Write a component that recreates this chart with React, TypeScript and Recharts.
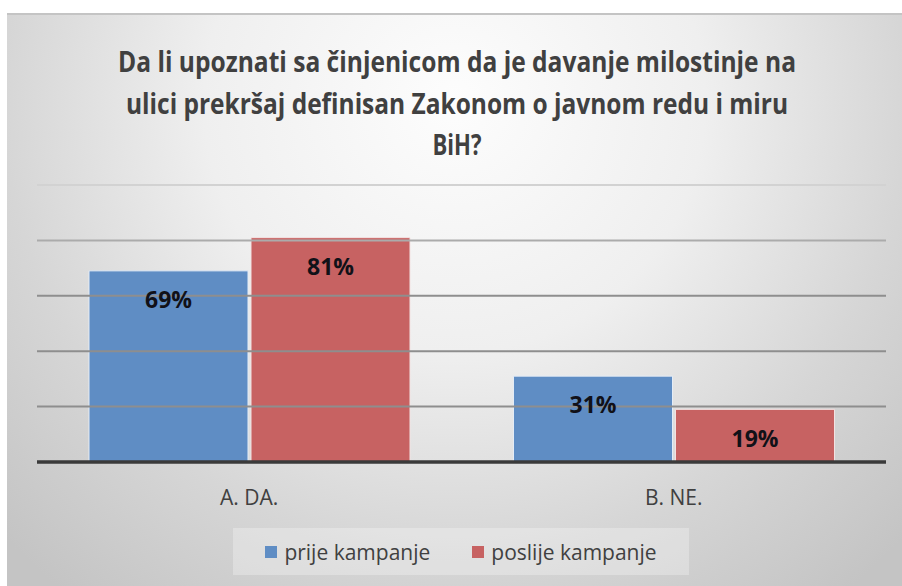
import React from 'react';
import { BarChart, Bar, XAxis, YAxis, ReferenceLine, LabelList, Legend } from 'recharts';

const categories = ['A. DA.', 'B. NE.'];
const prijeKampanje = [0.69, 0.31];
const poslijeKampanje = [0.81, 0.19];
const gridTicks = [0.2, 0.4, 0.6, 0.8, 1.0];
const seriesNames = ['prije kampanje', 'poslije kampanje'];
const titleLines = [
  'Da li upoznati sa činjenicom da je davanje milostinje na',
  'ulici prekršaj definisan Zakonom o javnom redu i miru',
  'BiH?',
];

const data = categories.map((c, i) => ({
  name: c,
  prije: prijeKampanje[i],
  poslije: poslijeKampanje[i],
}));

const BLUE = '#5f8dc4';
const RED = '#c76262';
const FONT = '"Open Sans", "Noto Sans", sans-serif';

const gridColor = (v: number) => (v >= 1 ? '#d2d2d2' : v >= 0.8 ? '#ababab' : '#8e8e8e');

const pct = (v: any) => `${Math.round(Number(v) * 100)}%`;

const LegendContent = (props: any) => {
  const payload = [...(props.payload || [])].sort(
    (a: any, b: any) => seriesNames.indexOf(a.value) - seriesNames.indexOf(b.value)
  );
  return (
    <div
      style={{
        width: 456,
        height: 47,
        background: 'rgba(255,255,255,0.28)',
        display: 'flex',
        alignItems: 'center',
        justifyContent: 'center',
        fontFamily: FONT,
        fontSize: 21,
        color: '#404040',
      }}
    >
      {payload.map((p: any, i: number) => (
        <div key={i} style={{ display: 'flex', alignItems: 'center', marginLeft: i ? 42 : 0 }}>
          <span style={{ width: 12, height: 12, background: p.color, display: 'inline-block', marginRight: 7 }} />
          <span>{p.value}</span>
        </div>
      ))}
    </div>
  );
};

export default function App() {
  const titleY = [72, 114, 155];
  const titleLen = [678, 662, 49];
  return (
    <div style={{ position: 'absolute', left: 0, top: 0, width: 902, height: 586, background: '#ffffff', overflow: 'hidden' }}>
      <div
        style={{
          position: 'absolute',
          left: 7,
          top: 13,
          width: 895,
          height: 573,
          borderTop: '2px solid #c4c4c4',
          boxSizing: 'border-box',
          background:
            'radial-gradient(ellipse 70% 110% at 50% 15%, #fdfdfd 0%, #efefef 40%, #d6d6d6 72%, #c4c4c4 100%)',
        }}
      />
      <svg width={902} height={586} style={{ position: 'absolute', left: 0, top: 0 }}>
        {titleLines.map((t, i) => (
          <text
            key={i}
            x={457}
            y={titleY[i]}
            textAnchor="middle"
            fontFamily={FONT}
            fontWeight="bold"
            fontSize={28}
            fill="#404040"
            textLength={titleLen[i]}
            lengthAdjust="spacingAndGlyphs"
          >
            {t}
          </text>
        ))}
      </svg>
      <div style={{ position: 'absolute', left: 0, top: 0 }}>
        <BarChart
          width={902}
          height={586}
          data={data}
          margin={{ top: 185, bottom: 94, left: 37, right: 16 }}
          barCategoryGap={52}
          barGap={3}
        >
          {gridTicks.map((v) => (
            <ReferenceLine key={v} y={v} stroke={gridColor(v)} strokeWidth={2} ifOverflow="extendDomain" />
          ))}
          <YAxis hide domain={[0, 1]} ticks={[0, ...gridTicks]} />
          <XAxis
            dataKey="name"
            height={30}
            axisLine={{ stroke: '#3a3a3a', strokeWidth: 3.5 }}
            tickLine={false}
            tickSize={0}
            tickMargin={28}
            tick={{ fontSize: 21, fill: '#404040', fontFamily: FONT }}
          />
          <Bar dataKey="prije" name={seriesNames[0]} fill={BLUE} stroke="#e4ecf6" strokeWidth={1} isAnimationActive={false}>
            <LabelList
              dataKey="prije"
              position="insideTop"
              offset={21}
              formatter={pct}
              style={{ fontSize: 23, fontWeight: 'bold', fill: '#111118', fontFamily: FONT }}
            />
          </Bar>
          <Bar dataKey="poslije" name={seriesNames[1]} fill={RED} stroke="#f2e2e2" strokeWidth={1} isAnimationActive={false}>
            <LabelList
              dataKey="poslije"
              position="insideTop"
              offset={21}
              formatter={pct}
              style={{ fontSize: 23, fontWeight: 'bold', fill: '#111118', fontFamily: FONT }}
            />
          </Bar>
          <Legend
            layout="horizontal"
            verticalAlign="middle"
            align="center"
            content={<LegendContent />}
            wrapperStyle={{ position: 'absolute', left: 233, top: 528, width: 456, height: 47 }}
          />
        </BarChart>
      </div>
    </div>
  );
}
